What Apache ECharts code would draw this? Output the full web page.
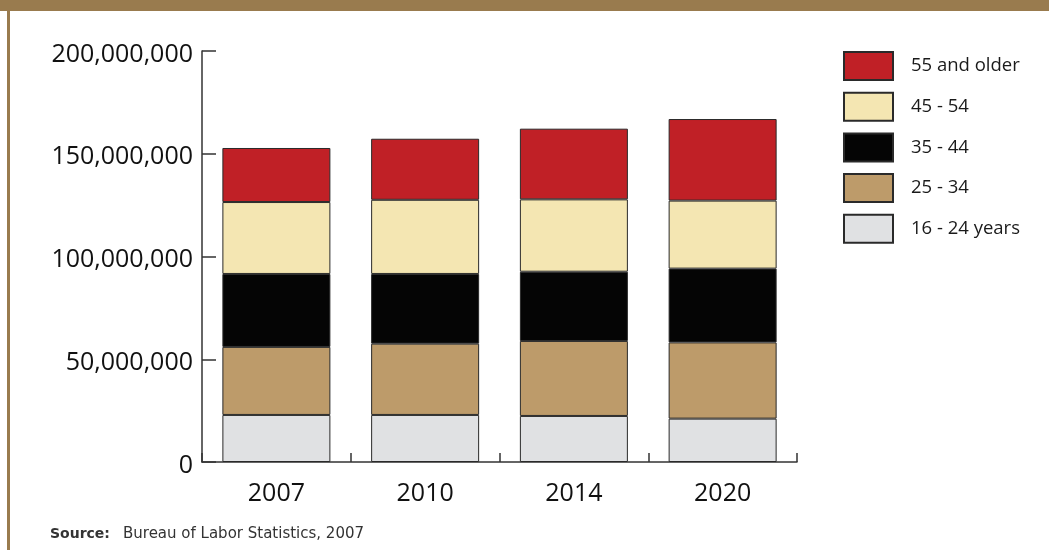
<!DOCTYPE html>
<html>
<head>
<meta charset="utf-8">
<script src="https://cdn.jsdelivr.net/npm/echarts@6/dist/echarts.min.js"></script>
<style>
html,body{margin:0;padding:0;background:#fff;}
#chart{width:1049px;height:550px;}
</style>
</head>
<body>
<div id="chart"></div>
<script>
var categories = ['2007', '2010', '2014', '2020'];
var age16to24 = [22900000, 22900000, 22400000, 21100000];
var age25to34 = [33100000, 34700000, 36500000, 37100000];
var age35to44 = [35500000, 33900000, 33700000, 35900000];
var age45to54 = [35000000, 36100000, 35200000, 33100000];
var age55plus = [26300000, 29700000, 34400000, 39700000];
var seriesNames = ['16 - 24 years', '25 - 34', '35 - 44', '45 - 54', '55 and older'];
var legendOrder = ['55 and older', '45 - 54', '35 - 44', '25 - 34', '16 - 24 years'];
var yTicks = [0, 50000000, 100000000, 150000000, 200000000];
var sourceLabel = 'Source:';
var sourceText = 'Bureau of Labor Statistics, 2007';

var colors = ['#e0e1e3', '#bd9b6a', '#050505', '#f4e6b2', '#c02026'];
var values = [age16to24, age25to34, age35to44, age45to54, age55plus];

function fmt(v) {
  return '{t|' + String(v).replace(/\B(?=(\d{3})+(?!\d))/g, ',') + '}';
}

var chart = echarts.init(document.getElementById('chart'), null, {renderer: 'canvas'});
var FONT = '"Open Sans", sans-serif';

var series = seriesNames.map(function (name, i) {
  return {
    name: name,
    type: 'bar',
    stack: 'total',
    barWidth: 108,
    data: values[i],
    itemStyle: {color: colors[i], borderColor: '#2a2a2a', borderWidth: 1},
    emphasis: {disabled: true}
  };
});

chart.setOption({
  animation: false,
  backgroundColor: '#ffffff',
  grid: {left: 202, right: 252, top: 51, bottom: 88, containLabel: false},
  legend: {
    data: legendOrder,
    orient: 'vertical',
    left: 843,
    top: 51,
    padding: 0,
    itemWidth: 49,
    itemHeight: 28,
    itemGap: 10.7,
    icon: 'rect',
    selectedMode: false,
    textStyle: {fontFamily: FONT, fontSize: 18.5, color: '#1a1a1a', padding: [0, 0, 0, 13]}
  },
  xAxis: {
    type: 'category',
    data: categories,
    axisLine: {lineStyle: {color: '#333', width: 1.5}},
    axisTick: {show: true, inside: true, length: 9, lineStyle: {color: '#333', width: 1.5}},
    axisLabel: {fontFamily: FONT, fontSize: 25, color: '#111', margin: 19}
  },
  yAxis: {
    type: 'value',
    min: yTicks[0],
    max: yTicks[yTicks.length - 1],
    interval: yTicks[1] - yTicks[0],
    splitLine: {show: false},
    axisLine: {show: true, lineStyle: {color: '#333', width: 1.5}},
    axisTick: {show: true, inside: true, length: 14, lineStyle: {color: '#333', width: 1.5}},
    axisLabel: {
      margin: 9,
      formatter: fmt,
      rich: {t: {fontFamily: FONT, fontSize: 25, color: '#111', padding: [7, 0, 0, 0]}}
    }
  },
  graphic: [
    {type: 'rect', left: 0, top: 0, shape: {width: 1049, height: 11}, style: {fill: '#997b4e'}},
    {type: 'rect', left: 7, top: 0, shape: {width: 3, height: 550}, style: {fill: '#997b4e'}},
    {type: 'text', left: 50, top: 527, style: {text: sourceLabel, font: 'bold 14px "DejaVu Sans", sans-serif', fill: '#333'}},
    {type: 'text', left: 123, top: 527, style: {text: sourceText, font: '15px "DejaVu Sans", sans-serif', fill: '#333'}}
  ],
  series: series
});
</script>
</body>
</html>
